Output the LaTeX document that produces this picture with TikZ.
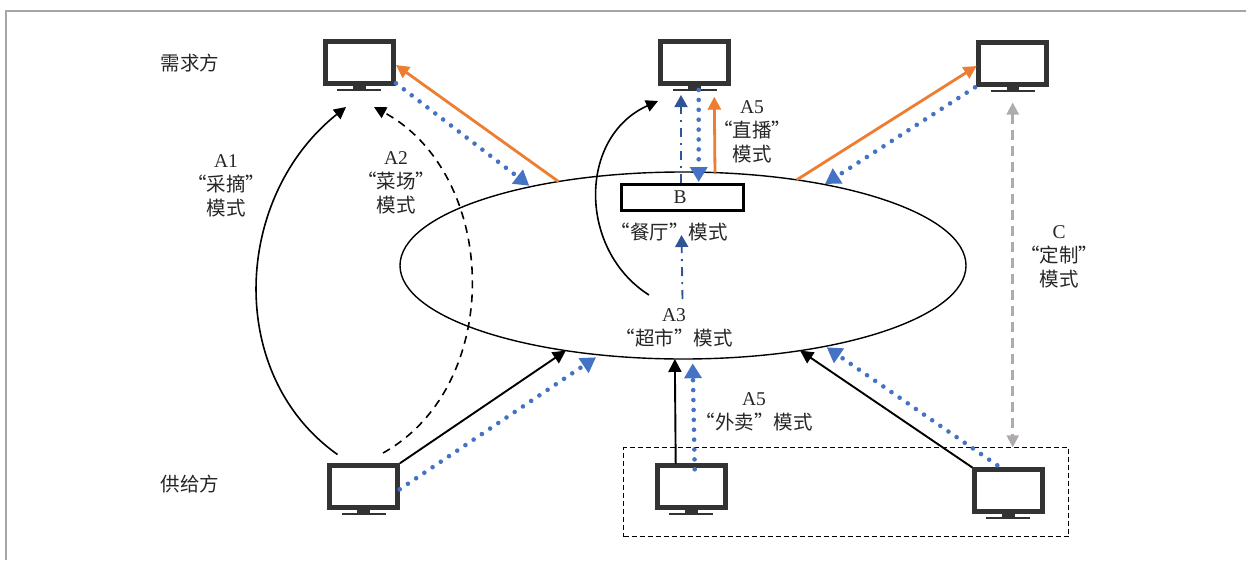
\documentclass[tikz,border=0pt]{standalone}
\usepackage{fontspec}
\setmainfont{Liberation Serif}
\newfontfamily\cjk{Noto Sans CJK SC}
\usetikzlibrary{shapes.geometric,arrows.meta,calc}
\definecolor{mon}{HTML}{333333}
\definecolor{orangeL}{HTML}{ED7D31}
\definecolor{blueL}{HTML}{4472C4}
\definecolor{navyL}{HTML}{2F5597}
\definecolor{greyL}{HTML}{AFABAB}
\definecolor{frameL}{HTML}{A6A6A6}
\definecolor{txt}{HTML}{262626}
\tikzset{
  screen/.style={draw=mon,fill=white,line width=5pt,minimum width=68pt,minimum height=42pt,inner sep=0pt,outer sep=2.5pt},
  lab/.style={text=txt,font=\fontsize{19.5}{24.3}\selectfont,align=center,inner sep=0pt},
  blk/.style={black,line width=1.9pt,-{Triangle[length=13pt,width=13pt]}},
  curv/.style={black,line width=1.6pt,-{Triangle[length=12pt,width=12pt]}},
  dashcurv/.style={curv,dash pattern=on 8pt off 6pt},
  org/.style={orangeL,line width=2.8pt,-{Triangle[length=13pt,width=13pt]}},
  dots/.style={blueL,line width=4.6pt,line cap=round,dash pattern=on 0pt off 9.9pt,
     -{Triangle[length=15pt,width=17pt,line cap=butt]}},
  ddot/.style={navyL,line width=1.9pt,dash pattern=on 9pt off 6pt on 2pt off 6pt,-{Triangle[length=12pt,width=13pt]}},
  gry/.style={greyL,line width=2.5pt,dash pattern=on 10pt off 6pt,{Triangle[length=12pt,width=12pt]}-{Triangle[length=12pt,width=12pt]}},
}
\newcommand{\monitor}[3]{%
  \node[screen] (#1) at (#2,#3) {};
  \fill[mon] ($(#1.south)+(-6.3,-1)$) rectangle ($(#1.south)+(6.3,4)$);
  \fill[mon] ($(#1.south)+(-22,2.7)$) rectangle ($(#1.south)+(22,5.2)$);
}
\begin{document}
\begin{tikzpicture}[x=1pt,y=-1pt]
\useasboundingbox (0,0) rectangle (1246,560);
\draw[frameL,line width=2.5pt] (6,560) -- (6,11) -- (1246,11);
% ellipse, box
\node[draw=black,line width=1.4pt,ellipse,minimum width=566pt,minimum height=187pt,inner sep=0pt,outer sep=0pt] (ell) at (683,265.5) {};
\node[draw=black,fill=white,line width=3.2pt,minimum width=122pt,minimum height=26.5pt,inner sep=0pt,outer sep=0pt] (bbox) at (682.5,197.5) {};
\node[draw=black,line width=1.9pt,dash pattern=on 5pt off 3pt,minimum width=445pt,minimum height=89pt,inner sep=0pt,outer sep=0pt] (box) at (846,492) {};
% monitors
\monitor{m1}{359.2}{62.3}
\monitor{m2}{694.5}{62.3}
\monitor{m3}{1012.8}{63.3}
\monitor{m4}{363.5}{486.7}
\monitor{m5}{691.2}{486.7}
\monitor{m6}{1008.3}{490.7}
% free ends
\coordinate (a1s) at (337.5,454.5);
\coordinate (a1e) at (346,107);
\coordinate (a2s) at (383,453);
\coordinate (a2e) at (374,107);
\coordinate (a3s) at (649,295);
\coordinate (a3e) at (658,101);
\coordinate (b1s) at (396,83.3);
\coordinate (b1e) at (529.3,185.7);
\coordinate (c1) at (681,183);
\coordinate (c2) at (681,95);
\coordinate (c3) at (714.3,96.7);
\coordinate (c4) at (698.7,90);
\coordinate (c5) at (698.7,182);
\coordinate (c6) at (682.5,299);
\coordinate (c7) at (681.5,235);
\coordinate (r1) at (975,87.3);
\coordinate (r2) at (825,184);
\coordinate (g1) at (1012.7,102.5);
\coordinate (g2) at (1012.7,447.3);
\coordinate (l1) at (399.7,489.3);
\coordinate (l2) at (596,357.3);
\coordinate (d1) at (675.7,463.5);
\coordinate (d2) at (694.7,469.3);
\coordinate (d3) at (692.7,363.3);
\coordinate (e1) at (972.3,467.5);
\coordinate (e2) at (997.3,465.3);
\coordinate (e3) at (826.7,347.3);
\coordinate (f1) at (976.7,66);
\coordinate (f2) at (396,65);
% curves
\draw[curv] (a1s) .. controls (225,375) and (233,197) .. (a1e);
\draw[dashcurv] (a2s) .. controls (505,385) and (499,175) .. (a2e);
\draw[curv] (a3s) .. controls (578,250) and (578,137) .. (a3e);
% orange
\draw[org] (ell.146.9) -- (f2);
\draw[org] (ell.71.6) -- (c3);
\draw[org] (ell.37.9) -- (f1);
% blue dotted
\draw[dots] (b1s) -- (b1e);
\draw[dots] (c4) -- (c5);
\draw[dots] (r1) -- (r2);
\draw[dots] (l1) -- (l2);
\draw[dots] (d2) -- (d3);
\draw[dots] (e2) -- (e3);
% dash-dot
\draw[ddot] (c1) -- (c2);
\draw[ddot] (c6) -- (c7);
% grey
\draw[gry] (g1) -- (g2);
% black
\draw[blk] (m4.north east) -- (ell.216.9);
\draw[blk] (d1) -- (ell.265.5);
\draw[blk] (e1) -- (ell.-36.5);
% labels
\node[lab] (t1) at (190,63) {\cjk 需求方};
\node[lab] (t2) at (190,484) {\cjk 供给方};
\node[lab] (t3) at (226,186) {A1\\{\cjk “采摘”}\\{\cjk 模式}};
\node[lab] (t4) at (396,183) {A2\\{\cjk “菜场”}\\{\cjk 模式}};
\node[lab] (t5) at (752,132) {A5\\{\cjk “直播”}\\{\cjk 模式}};
\node[lab] (t6) at (680,197) {B};
\node[lab] (t7) at (669,232) {\cjk “餐厅”模式};
\node[lab] (t8) at (674,328) {A3\\{\cjk “超市”模式}};
\node[lab] (t9) at (754,412) {A5\\{\cjk “外卖”模式}};
\node[lab] (t10) at (1059,257) {C\\{\cjk “定制”}\\{\cjk 模式}};
\end{tikzpicture}
\end{document}
